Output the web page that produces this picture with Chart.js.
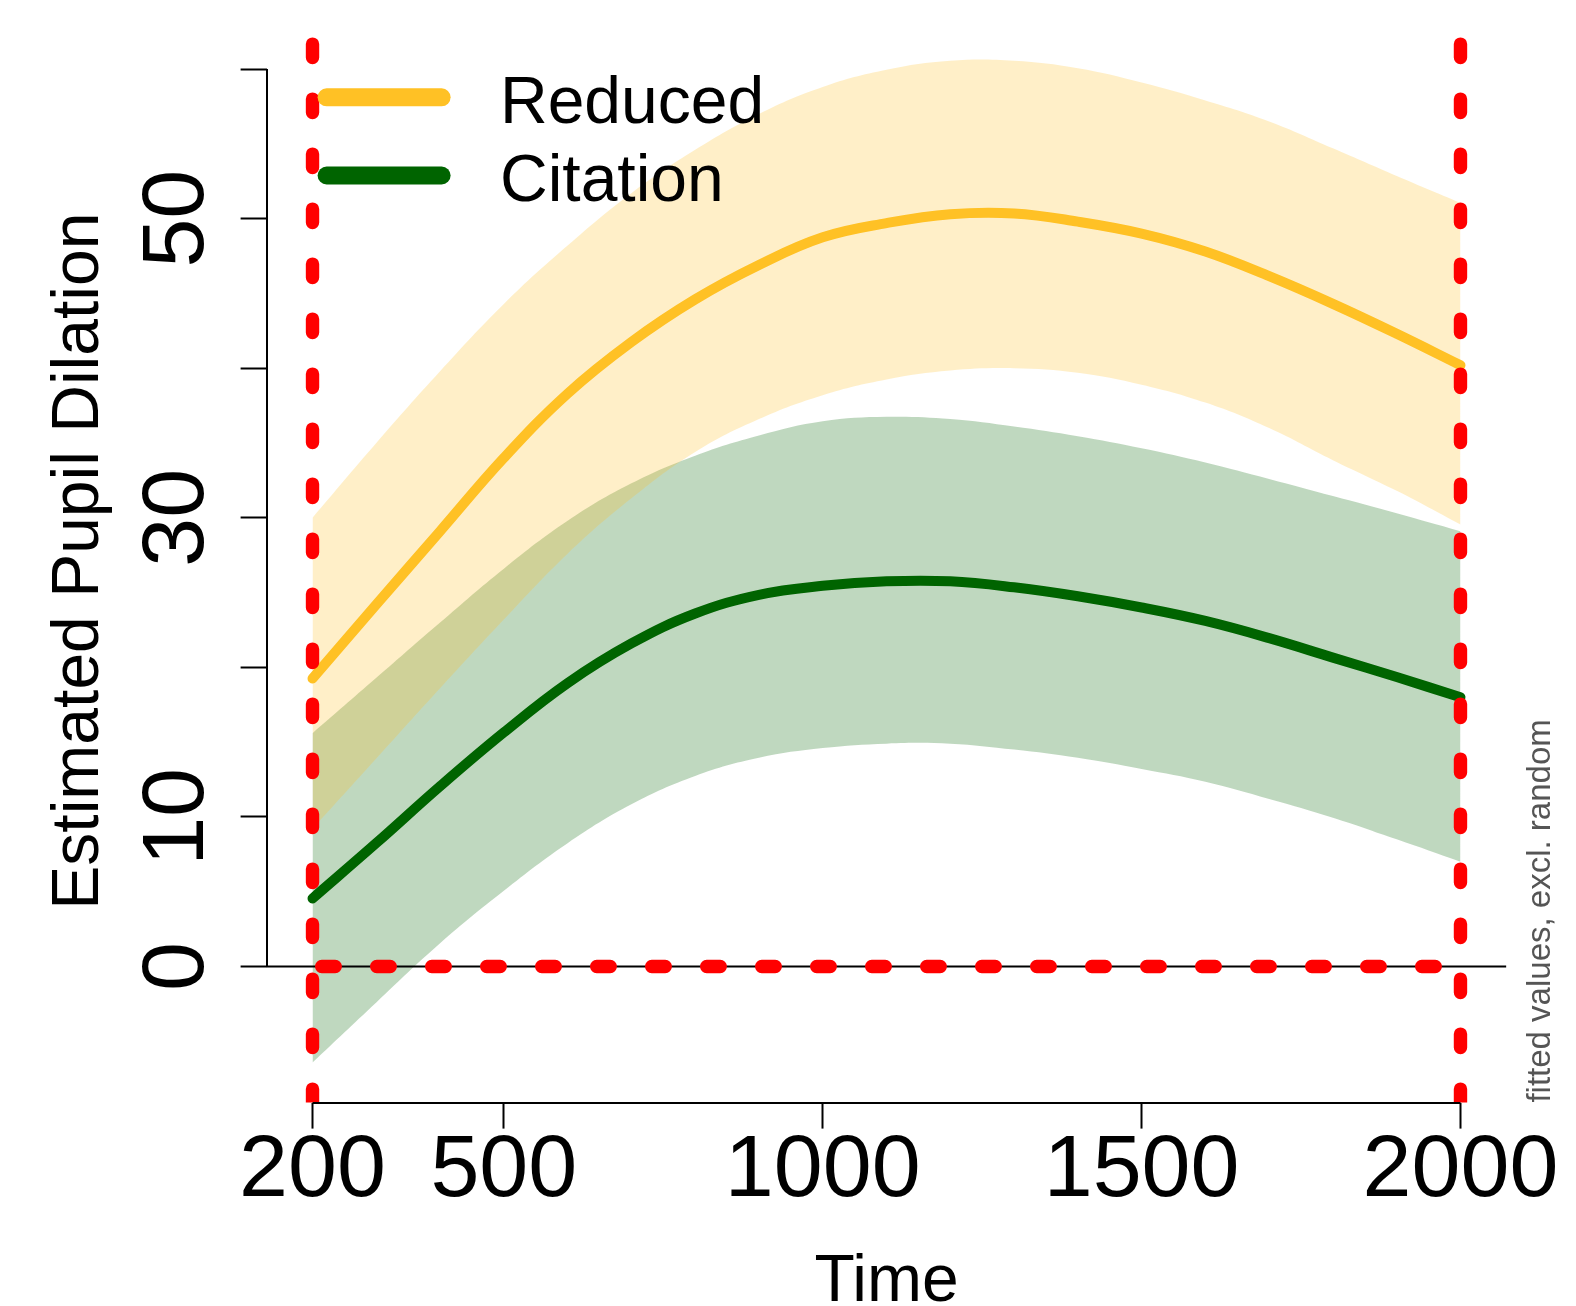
<!DOCTYPE html>
<html lang="en">
<head>
<meta charset="UTF-8">
<title>Estimated Pupil Dilation</title>
<script src="https://cdn.jsdelivr.net/npm/chart.js@4"></script>
<style>
  html, body { margin: 0; padding: 0; background: #fff; }
  canvas { display: block; }
</style>
</head>
<body>
<canvas id="chart" width="1576" height="1306"></canvas>
<script>
// fitted values, read every 100 ms
const time = [200, 300, 400, 500, 600, 700, 800, 900, 1000, 1100, 1200, 1300, 1400, 1500, 1600, 1700, 1800, 1900, 2000];

const reducedFit   = [19.25, 24.2, 29.1, 34.0, 38.3, 41.75, 44.6, 46.9, 48.75, 49.7, 50.3, 50.35, 49.8, 49.0, 47.8, 46.15, 44.3, 42.3, 40.2];
const reducedUpper = [30.0, 35.0, 39.8, 44.3, 48.2, 51.7, 54.6, 57.0, 58.8, 59.95, 60.55, 60.55, 60.05, 59.1, 57.9, 56.5, 54.7, 52.85, 51.05];
const reducedLower = [9.2, 13.9, 18.6, 23.2, 27.6, 31.3, 34.4, 36.6, 38.2, 39.25, 39.85, 40.0, 39.7, 38.9, 37.7, 36.0, 33.85, 31.8, 29.55];

const citationFit   = [4.55, 8.25, 12.05, 15.65, 18.95, 21.6, 23.6, 24.85, 25.45, 25.75, 25.75, 25.35, 24.75, 24.0, 23.1, 21.95, 20.65, 19.35, 18.0];
const citationUpper = [15.6, 19.3, 23.0, 26.6, 29.8, 32.3, 34.15, 35.5, 36.45, 36.75, 36.6, 36.1, 35.45, 34.65, 33.7, 32.6, 31.45, 30.3, 29.1];
const citationLower = [-6.42, -2.4, 1.55, 5.06, 8.24, 10.84, 12.74, 13.95, 14.6, 14.9, 14.9, 14.5, 13.95, 13.2, 12.35, 11.2, 9.95, 8.5, 7.0];

const xTicks = [200, 500, 1000, 1500, 2000];
const yTicks = [0, 10, 20, 30, 40, 50, 60];
const yLabelled = [0, 10, 30, 50];
const xRange = [128, 2072];
const yRange = [-9.1, 63.3];
const refTimes = [200, 2000];
const refLevel = 0;

const seriesNames = ['Reduced', 'Citation'];
const seriesColors = ['#FFC125', '#006400'];
const bandColors = ['rgba(255,193,37,0.25)', 'rgba(0,100,0,0.25)'];

const W = 1576, H = 1306;
const PLOT = { left: 266.6, top: 19.7, right: 1506.4, bottom: 1102.6 };
const FONT = "'Liberation Sans', Arial, sans-serif";

Chart.defaults.font.family = FONT;
Chart.defaults.color = '#000';

function pts(ys) {
  return time.map((t, i) => ({ x: t, y: ys[i] }));
}

function curve(ys, extra) {
  return Object.assign({
    data: pts(ys),
    tension: 0.4,
    pointRadius: 0,
    borderColor: 'rgba(0,0,0,0)',
    borderWidth: 0,
    fill: false
  }, extra);
}

const redDash = {
  borderColor: '#FF0000',
  borderWidth: 13.4,
  borderDash: [13.5, 41.5],
  borderCapStyle: 'round',
  pointRadius: 0,
  fill: false,
  clip: 0,
  order: 0
};

const datasets = [
  curve(reducedUpper, { fill: '+1', backgroundColor: bandColors[0], order: 3 }),
  curve(reducedLower, { order: 3 }),
  curve(citationUpper, { fill: '+1', backgroundColor: bandColors[1], order: 4 }),
  curve(citationLower, { order: 4 }),
  curve(reducedFit, { borderColor: seriesColors[0], borderWidth: 10, borderCapStyle: 'round', borderJoinStyle: 'round', order: 2 }),
  curve(citationFit, { borderColor: seriesColors[1], borderWidth: 10, borderCapStyle: 'round', borderJoinStyle: 'round', order: 2 }),
  // abline(h = 0)
  { data: xRange.map(x => ({ x, y: refLevel })), borderColor: '#000', borderWidth: 2, pointRadius: 0, fill: false, clip: 0, order: 1 },
  // red dashed window marks, drawn bottom to top
  ...refTimes.map(t => Object.assign({ data: yRange.map(y => ({ x: t, y })) }, redDash)),
  Object.assign({ data: refTimes.map(x => ({ x, y: refLevel })) }, redDash, { borderDashOffset: 45.8 })
];

// R style axis lines, legend and the side note
const decorations = {
  id: 'decorations',
  afterDraw(chart) {
    const { ctx, chartArea: a, scales: { x, y } } = chart;
    ctx.save();
    ctx.strokeStyle = '#000';
    ctx.lineWidth = 2;
    ctx.beginPath();
    const ax = Math.round(a.left);
    const ay = Math.round(a.bottom);
    ctx.moveTo(ax, y.getPixelForValue(yTicks[0]));
    ctx.lineTo(ax, y.getPixelForValue(yTicks[yTicks.length - 1]));
    ctx.moveTo(x.getPixelForValue(xTicks[0]), ay);
    ctx.lineTo(x.getPixelForValue(xTicks[xTicks.length - 1]), ay);
    ctx.stroke();

    ctx.font = '66px ' + FONT;
    ctx.textBaseline = 'alphabetic';
    ctx.textAlign = 'left';
    ctx.lineCap = 'round';
    ctx.lineWidth = 18;
    seriesNames.forEach((name, i) => {
      const cy = a.top + 77.6 + i * 78.2;
      ctx.strokeStyle = seriesColors[i];
      ctx.beginPath();
      ctx.moveTo(a.left + 60, cy);
      ctx.lineTo(a.left + 175, cy);
      ctx.stroke();
      ctx.fillStyle = '#000';
      ctx.fillText(name, a.left + 233.4, cy + 25.7);
    });

    ctx.font = '33px ' + FONT;
    ctx.fillStyle = '#555';
    ctx.translate(a.right + 43.6, a.bottom);
    ctx.rotate(-Math.PI / 2);
    ctx.fillText('fitted values, excl. random', 0, 0);
    ctx.restore();
  }
};

new Chart(document.getElementById('chart'), {
  type: 'line',
  data: { datasets },
  plugins: [decorations],
  options: {
    responsive: false,
    devicePixelRatio: 1,
    animation: false,
    events: [],
    layout: { padding: { top: PLOT.top, right: W - PLOT.right, bottom: 0, left: 0 } },
    plugins: { legend: { display: false }, tooltip: { enabled: false } },
    scales: {
      x: {
        type: 'linear',
        min: xRange[0],
        max: xRange[1],
        afterBuildTicks: s => { s.ticks = xTicks.map(v => ({ value: v })); },
        afterFit: s => { s.height = H - PLOT.bottom; s.paddingLeft = 0; s.paddingRight = 0; },
        ticks: {
          autoSkip: false,
          maxRotation: 0,
          padding: 7.5,
          font: { size: 88, lineHeight: 0.8 },
          callback: v => String(v)
        },
        grid: { drawOnChartArea: false, tickLength: 26, tickWidth: 2, tickColor: '#000' },
        border: { display: false },
        title: { display: true, text: 'Time', font: { size: 66, lineHeight: 0.7 }, padding: { top: 0, bottom: 0 } }
      },
      y: {
        type: 'linear',
        min: yRange[0],
        max: yRange[1],
        afterBuildTicks: s => { s.ticks = yTicks.map(v => ({ value: v })); },
        afterFit: s => { s.width = PLOT.left; s.paddingTop = 0; s.paddingBottom = 0; },
        ticks: {
          autoSkip: false,
          minRotation: 90,
          maxRotation: 90,
          crossAlign: 'center',
          padding: 13.4,
          font: { size: 88, lineHeight: 0.8 },
          callback: v => (yLabelled.includes(v) ? String(v) : '')
        },
        grid: { drawOnChartArea: false, tickLength: 26, tickWidth: 2, tickColor: '#000' },
        border: { display: false },
        title: { display: true, text: 'Estimated Pupil Dilation', font: { size: 66, lineHeight: 0.8 }, padding: { top: 53.7, bottom: 0 } }
      }
    }
  }
});
</script>
</body>
</html>
